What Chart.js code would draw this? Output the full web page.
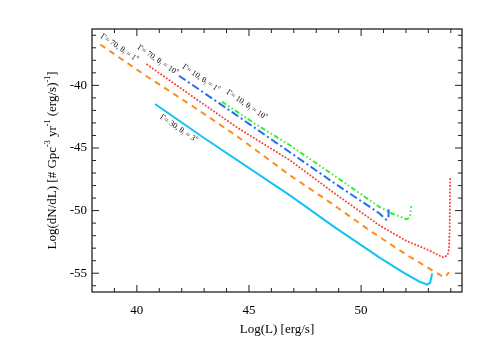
<!DOCTYPE html>
<html>
<head>
<meta charset="utf-8">
<script src="https://cdn.jsdelivr.net/npm/chart.js@4/dist/chart.umd.min.js"></script>
<style>
  html, body { margin: 0; padding: 0; background: #fff; }
  #wrap { width: 491px; height: 350px; }
</style>
</head>
<body>
<div id="wrap"><canvas id="lfChart" width="491" height="350"></canvas></div>
<script>
// ==========================================
// DATA
// ==========================================

// Gamma = 70, theta_j = 1 deg (orange dashed)
const g70t1X = [38.37, 40.5, 42.46, 44.5, 46.81, 48.5, 50.37, 52.0, 53.2, 53.56, 53.70, 53.80, 53.92];
const g70t1Y = [-36.74, -39.35, -41.63, -44.1, -47.16, -49.2, -51.57, -53.5, -54.8, -55.18, -55.32, -55.2, -54.92];

// Gamma = 70, theta_j = 10 deg (red dotted)
const g70t10X = [40.46, 42.37, 44.5, 46.81, 48.8, 50.81, 52.0, 53.04, 53.5, 53.68, 53.86, 53.92, 53.95, 53.97];
const g70t10Y = [-38.34, -40.75, -43.4, -45.96, -48.6, -51.17, -52.4, -53.18, -53.6, -53.74, -53.55, -53.0, -51.5, -47.4];

// Gamma = 10, theta_j = 1 deg (blue dash-dot)
const g10t1X = [41.88, 44.3, 46.81, 48.8, 50.81, 51.12, 51.22, 51.23];
const g10t1Y = [-39.23, -42.2, -45.32, -47.8, -50.21, -50.72, -50.6, -49.8];

// Gamma = 10, theta_j = 10 deg (green dash-dot-dot)
const g10t10X = [43.80, 45.3, 46.81, 48.8, 50.81, 51.4, 51.7, 52.01, 52.15, 52.2, 52.24];
const g10t10Y = [-41.31, -43.1, -44.76, -47.2, -49.70, -50.25, -50.45, -50.69, -50.6, -50.3, -49.65];

// Gamma = 30, theta_j = 3 deg (cyan solid)
const g30t3X = [40.81, 43.0, 46.81, 48.8, 50.81, 51.8, 52.59, 52.95, 53.08, 53.17];
const g30t3Y = [-41.49, -44.2, -48.77, -51.3, -53.74, -54.85, -55.66, -55.91, -55.75, -55.03];

// axis ticks
const xTicks = [40, 45, 50];
const yTicks = [-55, -50, -45, -40];
const xMinor = [39, 40, 41, 42, 43, 44, 45, 46, 47, 48, 49, 50, 51, 52, 53, 54];
const yMinor = [-56, -55, -54, -53, -52, -51, -50, -49, -48, -47, -46, -45, -44, -43, -42, -41, -40, -39, -38, -37, -36];

// curve labels: gamma, theta, anchor x, anchor y
const labelGamma = ['70', '70', '10', '10', '30'];
const labelTheta = ['1', '10', '1', '10', '3'];
const labelX = [39.22, 40.93, 42.86, 44.9, 41.86];
const labelY = [-37.0, -37.98, -39.42, -41.55, -43.45];

// ==========================================
// HELPERS
// ==========================================

const SERIF = '"Liberation Serif", "Times New Roman", serif';

function toPoints(xs, ys) {
    return xs.map((x, i) => ({ x: x, y: ys[i] }));
}

// pieces are [text, mode], mode: 'n' normal, 'sup', 'sub'
function richWidth(ctx, parts, size) {
    let w = 0;
    parts.forEach(p => {
        const s = p[1] === 'n' ? size : size * 0.62;
        ctx.font = s + 'px ' + SERIF;
        w += ctx.measureText(p[0]).width;
    });
    return w;
}

function drawRich(ctx, parts, size, x, y) {
    let cx = x;
    parts.forEach(p => {
        const s = p[1] === 'n' ? size : size * 0.62;
        let dy = 0;
        if (p[1] === 'sup') dy = -size * 0.38;
        if (p[1] === 'sub') dy = size * 0.22;
        ctx.font = s + 'px ' + SERIF;
        ctx.fillText(p[0], cx, y + dy);
        cx += ctx.measureText(p[0]).width;
    });
}

const frameAndText = {
    id: 'frameAndText',
    afterDraw(chart) {
        const ctx = chart.ctx;
        const a = chart.chartArea;
        const xs = chart.scales.x;
        const ys = chart.scales.y;
        ctx.save();

        // frame
        ctx.strokeStyle = '#222';
        ctx.lineWidth = 1.3;
        ctx.strokeRect(a.left, a.top, a.right - a.left, a.bottom - a.top);

        // inward ticks on all four sides
        ctx.lineWidth = 1;
        ctx.beginPath();
        xMinor.forEach(v => {
            const px = xs.getPixelForValue(v);
            const len = xTicks.includes(v) ? 7 : 4;
            ctx.moveTo(px, a.bottom); ctx.lineTo(px, a.bottom - len);
            ctx.moveTo(px, a.top); ctx.lineTo(px, a.top + len);
        });
        yMinor.forEach(v => {
            const py = ys.getPixelForValue(v);
            const len = yTicks.includes(v) ? 7 : 4;
            ctx.moveTo(a.left, py); ctx.lineTo(a.left + len, py);
            ctx.moveTo(a.right, py); ctx.lineTo(a.right - len, py);
        });
        ctx.stroke();

        // curve labels, rotated along the lines
        ctx.fillStyle = '#111';
        ctx.textBaseline = 'middle';
        const ang = Math.atan2(0.68, 1);
        labelGamma.forEach((g, i) => {
            const parts = [['\u0393= ' + g + ', \u03b8', 'n'], ['j', 'sub'], [' = ' + labelTheta[i], 'n'], ['o', 'sup']];
            const px = xs.getPixelForValue(labelX[i]);
            const py = ys.getPixelForValue(labelY[i]);
            ctx.save();
            ctx.translate(px, py);
            ctx.rotate(ang);
            const w = richWidth(ctx, parts, 8);
            drawRich(ctx, parts, 8, -w / 2, 0);
            ctx.restore();
        });

        // axis titles
        ctx.fillStyle = '#000';
        ctx.textBaseline = 'middle';
        const xt = [['Log(L) [erg/s]', 'n']];
        const xw = richWidth(ctx, xt, 13);
        drawRich(ctx, xt, 13, (a.left + a.right) / 2 - xw / 2, 330);

        const yt = [['Log(dN/dL) [# Gpc', 'n'], ['-3', 'sup'], [' yr', 'n'], ['-1', 'sup'], [' (erg/s)', 'n'], ['-1', 'sup'], [']', 'n']];
        const yw = richWidth(ctx, yt, 13);
        ctx.save();
        ctx.translate(53, (a.top + a.bottom) / 2);
        ctx.rotate(-Math.PI / 2);
        drawRich(ctx, yt, 13, -yw / 2, 0);
        ctx.restore();

        ctx.restore();
    }
};

// ==========================================
// CHART
// ==========================================

function series(xs, ys, color, dash, width, cap) {
    return {
        data: toPoints(xs, ys),
        borderColor: color,
        borderWidth: width,
        borderDash: dash,
        borderCapStyle: cap || 'butt',
        showLine: true,
        fill: false,
        pointRadius: 0,
        tension: 0
    };
}

new Chart(document.getElementById('lfChart'), {
    type: 'scatter',
    data: {
        datasets: [
            series(g70t1X, g70t1Y, '#ff8c1a', [6, 5], 2),
            series(g70t10X, g70t10Y, '#ff3b30', [0.2, 3.2], 1.9, 'round'),
            series(g10t1X, g10t1Y, '#1e6ff0', [8, 3, 2, 3], 2),
            series(g10t10X, g10t10Y, '#33ee33', [5, 2.5, 1.5, 2.5, 1.5, 2.5], 2),
            series(g30t3X, g30t3Y, '#10c4f5', [], 2)
        ]
    },
    options: {
        responsive: false,
        animation: false,
        layout: { padding: { top: 29, right: 29, left: 0, bottom: 0 } },
        plugins: { legend: { display: false }, tooltip: { enabled: false } },
        scales: {
            x: {
                type: 'linear', min: 38, max: 54.5,
                afterFit: s => { s.height = 58; },
                afterBuildTicks: s => { s.ticks = xTicks.map(v => ({ value: v })); },
                grid: { display: false, drawTicks: false },
                border: { display: false },
                ticks: { padding: 11, color: '#000', font: { family: SERIF, size: 13 } }
            },
            y: {
                type: 'linear', min: -56.5, max: -35.5,
                afterFit: s => { s.width = 92; },
                afterBuildTicks: s => { s.ticks = yTicks.map(v => ({ value: v })); },
                grid: { display: false, drawTicks: false },
                border: { display: false },
                ticks: { padding: 5, color: '#000', font: { family: SERIF, size: 13 } }
            }
        }
    },
    plugins: [frameAndText]
});
</script>
</body>
</html>
